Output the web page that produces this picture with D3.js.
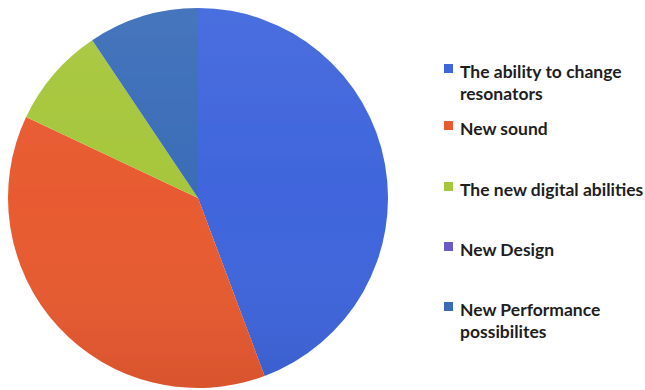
<!DOCTYPE html>
<html>
<head>
<meta charset="utf-8">
<script src="https://cdn.jsdelivr.net/npm/d3@7"></script>
<style>
  html, body { margin: 0; padding: 0; background: #ffffff; }
  svg { display: block; }
</style>
</head>
<body>
<svg id="chart" width="645" height="390"></svg>
<script>
// Survey answers: share of responses per category (percent)
const categories = [
  "The ability to change resonators",
  "New sound",
  "The new digital abilities",
  "New Design",
  "New Performance possibilites"
];
const values = [44.3, 37.7, 8.6, 0, 9.4];
const colors = ["#3f65dc", "#e85a30", "#a6c63b", "#6a5cc4", "#3a6cb8"];
// Legend text, wrapped as shown
const legendLines = [
  ["The ability to change", "resonators"],
  ["New sound"],
  ["The new digital abilities"],
  ["New Design"],
  ["New Performance", "possibilites"]
];

const svg = d3.select("#chart");
const cx = 198, cy = 198, radius = 190;

const defs = svg.append("defs");
const shade = defs.append("linearGradient")
  .attr("id", "shade").attr("x1", 0).attr("y1", 0).attr("x2", 0).attr("y2", 1);
shade.append("stop").attr("offset", "0%").attr("stop-color", "#ffffff").attr("stop-opacity", 0.06);
shade.append("stop").attr("offset", "50%").attr("stop-color", "#ffffff").attr("stop-opacity", 0);
shade.append("stop").attr("offset", "100%").attr("stop-color", "#000000").attr("stop-opacity", 0.07);
defs.append("filter").attr("id", "soft")
  .append("feGaussianBlur").attr("stdDeviation", 0.6);

const data = categories.map((c, i) => ({ name: c, value: values[i], color: colors[i] }));

const pie = d3.pie().value(d => d.value).sort(null);
const arc = d3.arc().innerRadius(0).outerRadius(radius);

const g = svg.append("g").attr("transform", `translate(${cx},${cy})`).attr("filter", "url(#soft)");
g.selectAll("path.slice")
  .data(pie(data))
  .join("path")
  .attr("class", "slice")
  .attr("d", arc)
  .attr("fill", d => d.data.color);

g.append("circle").attr("r", radius).attr("fill", "url(#shade)");

// Legend
const legendX = 444;
const baselines = [78, 135, 196, 256, 316];
const lineH = 22;
const legend = svg.append("g");
data.forEach((d, i) => {
  const y0 = baselines[i];
  legend.append("rect")
    .attr("x", legendX).attr("y", y0 - 14)
    .attr("width", 9).attr("height", 9)
    .attr("fill", d.color);
  const t = legend.append("text")
    .attr("x", legendX + 16).attr("y", y0)
    .attr("font-family", "Lato, 'Open Sans', sans-serif")
    .attr("font-weight", "bold")
    .attr("font-size", 17.5)
    .attr("fill", "#1e1e1e");
  legendLines[i].forEach((line, j) => {
    t.append("tspan").attr("x", legendX + 16).attr("y", y0 + j * lineH).text(line);
  });
});
</script>
</body>
</html>
